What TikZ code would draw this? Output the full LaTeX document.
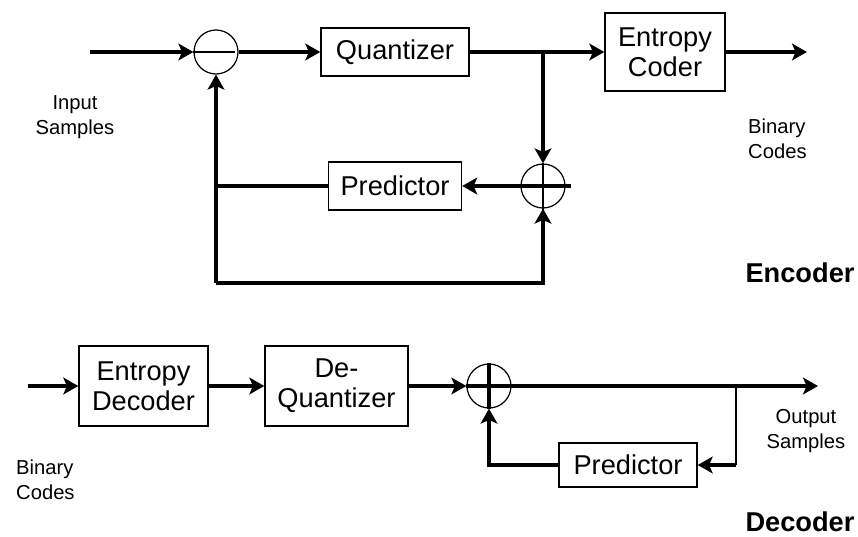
\documentclass[tikz,border=0pt]{standalone}
\usepackage{fontspec}
\setmainfont{Liberation Sans}
\usetikzlibrary{arrows.meta}

\begin{document}
\begin{tikzpicture}[x=0.02cm,y=-0.02cm,
            >={Stealth[length=8.5pt,width=9.5pt,inset=2pt]},
            blocco/.style={draw,line width=0.8pt,inner sep=0pt,align=center,font=\fontsize{15.5}{17}\selectfont},
            somma/.style={draw,circle,line width=0.7pt,inner sep=0pt,minimum size=0.88cm},
            flusso/.style={line width=2.6pt},
            etichetta/.style={align=center,font=\fontsize{11.5}{14}\selectfont},
            titolo/.style={font=\fontsize{15.5}{18}\selectfont\bfseries}]
            \useasboundingbox (0,0) rectangle (858,537);

            %codificatore
            \coordinate (ingresso) at (90,52);
            \node[somma] (sub) at (216,52) {};
            \node[blocco,minimum width=2.96cm,minimum height=0.96cm] (quant) at (395,52) {Quantizer};
            \node[blocco,minimum width=2.4cm,minimum height=1.56cm] (coder) at (665,52) {Entropy\\Coder};
            \coordinate (uscitaE) at (807,52);
            \node[somma] (sumE) at (543,186) {};
            \node[blocco,minimum width=2.66cm,minimum height=0.96cm] (predE) at (395,186) {Predictor};
            \coordinate (anello) at (216,283);

            %segno meno e segno piu
            \draw[line width=0.8pt] (sub.west) -- ([xshift=-2pt]sub.east);
            \draw[line width=0.7pt] (sumE.north) -- ([yshift=-1pt]sumE.south);

            %linee principali
            \draw[flusso,->] (ingresso) -- (sub.west);
            \draw[flusso,->] (sub.east) -- (quant.west);
            \draw[flusso,->] (quant.east) -- (coder.west);
            \draw[flusso,->] (coder.east) -- (uscitaE);
            \draw[flusso,->] (quant.east -| sumE) -- (sumE.north);

            %retroazione
            \draw[flusso,->] ([xshift=3pt]sumE.east) -- (predE.east);
            \draw[flusso,->] (predE.west) -| (sub.south);
            \draw[flusso] (predE.west -| sub) -- (anello);
            \draw[flusso,->] (anello) -| (sumE.south);

            \node[etichetta] (inS) at (75,117) {Input\\Samples};
            \node[etichetta,align=left,anchor=west] (binE) at (742,139) {Binary\\Codes};
            \node[titolo] (enc) at (800,273) {Encoder};

            %decodificatore
            \coordinate (ingressoD) at (28,386);
            \node[blocco,minimum width=2.58cm,minimum height=1.6cm] (edec) at (143.5,386) {Entropy\\Decoder};
            \node[blocco,minimum width=2.86cm,minimum height=1.6cm] (dq) at (336.5,386) {De-\\Quantizer};
            \node[somma] (sumD) at (489,386) {};
            \coordinate (uscitaD) at (818,386);
            \coordinate (ramo) at (736,386);
            \node[blocco,minimum width=2.76cm,minimum height=0.88cm] (predD) at (628,465) {Predictor};

            \draw[flusso,->] (ingressoD) -- (edec.west);
            \draw[flusso,->] (edec.east) -- (dq.west);
            \draw[flusso,->] (dq.east) -- (sumD.west);
            \draw[flusso] (sumD.north) -- (sumD.south);
            \draw[flusso,->] (sumD.west) -- (uscitaD);

            %ramo verso il predittore
            \draw[line width=1.2pt] (ramo) -- (ramo |- predD);
            \draw[flusso,->] (ramo |- predD) -- (predD.east);
            \draw[flusso,->] (predD.west) -| (sumD.south);

            \node[etichetta,align=left,anchor=west] (binD) at (10,480) {Binary\\Codes};
            \node[etichetta] (outS) at (806,431) {Output\\Samples};
            \node[titolo] (dec) at (800,522) {Decoder};
        \end{tikzpicture}
\end{document}
